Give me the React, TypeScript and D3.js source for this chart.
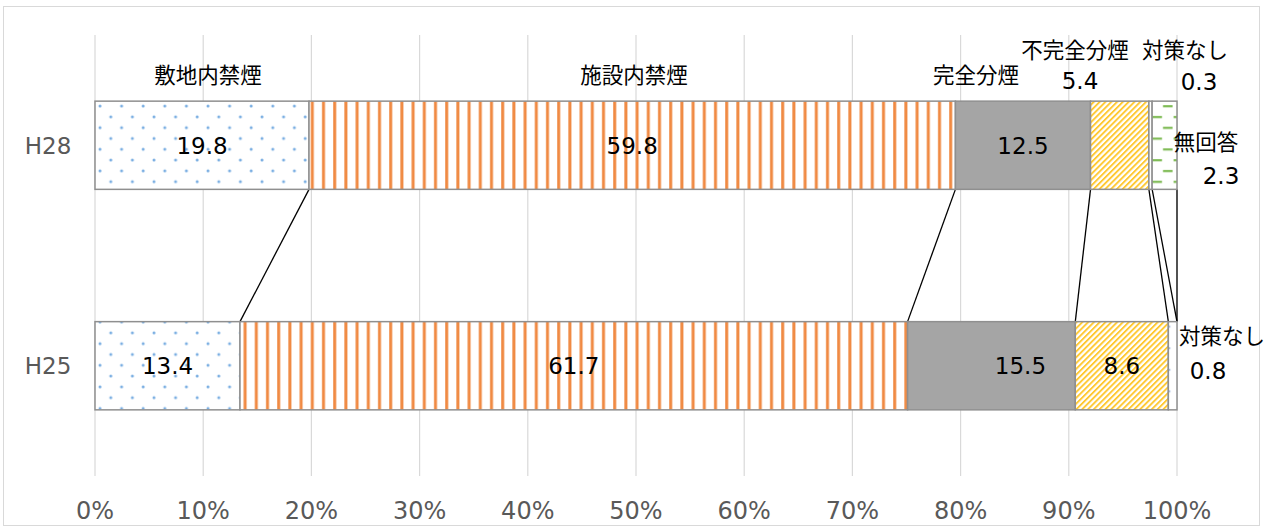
import React from "react";
import * as d3 from "d3";

const categories = ["H28", "H25"];
const seriesNames = ["敷地内禁煙", "施設内禁煙", "完全分煙", "不完全分煙", "対策なし", "無回答"];
const h28Values = [19.8, 59.8, 12.5, 5.4, 0.3, 2.3];
const h25Values = [13.4, 61.7, 15.5, 8.6, 0.8, 0];
const xTicks = [0, 10, 20, 30, 40, 50, 60, 70, 80, 90, 100];
// which values are printed inside the bar
const h28Inside = [true, true, true, false, false, false];
const h25Inside = [true, true, true, true, false, false];

const W = 1266;
const H = 528;
const FONT = "'DejaVu Sans', 'Noto Sans CJK JP', sans-serif";
const JFONT = "'Noto Sans CJK JP', sans-serif";

const fills = [
  "url(#pDots)",
  "url(#pVert)",
  "#a5a5a5",
  "url(#pDiag)",
  "url(#pSmallDots)",
  "url(#pDash)",
];

export default function App() {
  const x = d3.scaleLinear().domain([0, 100]).range([95, 1177]);
  const y = d3.scaleBand<string>().domain(categories).range([35, 476]).paddingInner(0.6).paddingOuter(0.3);
  const valuesByCat: Record<string, number[]> = { H28: h28Values, H25: h25Values };
  const insideByCat: Record<string, boolean[]> = { H28: h28Inside, H25: h25Inside };

  const stacked = categories.map((c) => {
    const vals = valuesByCat[c];
    const total = d3.sum(vals);
    let acc = 0;
    return vals.map((v, i) => {
      const start = (acc / total) * 100;
      acc += v;
      const end = (acc / total) * 100;
      return { cat: c, i, v, start, end };
    });
  });

  const bw = y.bandwidth();
  const yTop28 = y("H28")!;
  const yTop25 = y("H25")!;

  const labelOffsets: Record<string, number[]> = { H28: [0, 0, 0, 0, 0, 0], H25: [0, 0, 29, 0, 0, 0] };

  return (
    <svg width={W} height={H} style={{ position: "absolute", left: 0, top: 0, background: "#fff" }}>
      <defs>
        <pattern id="pDots" patternUnits="userSpaceOnUse" width={21.6} height={21.6} x={95} y={yTop28}>
          <rect width={21.6} height={21.6} fill="#fff" />
          <circle cx={5} cy={5} r={1.5} fill="#7aaee2" />
          <circle cx={15.8} cy={15.8} r={1.5} fill="#7aaee2" />
        </pattern>
        <pattern id="pSmallDots" patternUnits="userSpaceOnUse" width={10.8} height={21.6} x={0} y={yTop25}>
          <rect width={10.8} height={21.6} fill="#fff" />
          <circle cx={3} cy={5} r={1.1} fill="#9bb3dc" />
        </pattern>
        <pattern id="pVert" patternUnits="userSpaceOnUse" width={11.2} height={10} x={95}>
          <rect width={11.2} height={10} fill="#fff" />
          <rect x={3} width={3} height={10} fill="#f08a43" />
        </pattern>
        <pattern id="pDiag" patternUnits="userSpaceOnUse" width={4.1} height={4.1} patternTransform="rotate(45)">
          <rect width={4.1} height={4.1} fill="#fff" />
          <rect width={1.9} height={4.1} fill="#ffc830" />
        </pattern>
        <pattern id="pDash" patternUnits="userSpaceOnUse" width={21.6} height={21.6} x={1151} y={yTop28}>
          <rect width={21.6} height={21.6} fill="#fff" />
          <rect x={12} y={4} width={10} height={2.2} fill="#7fbb55" />
          <rect x={1} y={14.8} width={10} height={2.2} fill="#7fbb55" />
        </pattern>
      </defs>

      {/* outer border */}
      <rect x={3.5} y={6.5} width={1256} height={519} fill="none" stroke="#d9d9d9" strokeWidth={1} />

      {/* gridlines */}
      {xTicks.map((t) => (
        <line key={t} x1={x(t)} x2={x(t)} y1={35} y2={476} stroke="#d9d9d9" strokeWidth={1.2} />
      ))}

      {/* x tick labels */}
      {xTicks.map((t) => (
        <text key={t} x={x(t)} y={519} textAnchor="middle" fontFamily={FONT} fontSize={24} fill="#595959">
          {t}%
        </text>
      ))}

      {/* category labels */}
      {categories.map((c) => (
        <text key={c} x={48} y={y(c)! + bw / 2 + 8.5} textAnchor="middle" fontFamily={FONT} fontSize={23} fill="#595959">
          {c}
        </text>
      ))}

      {/* connecting lines */}
      {stacked[0].map((s, i) => (
        <line
          key={i}
          x1={x(s.end)}
          y1={yTop28 + bw}
          x2={x(stacked[1][i].end)}
          y2={yTop25}
          stroke="#000"
          strokeWidth={1.3}
        />
      ))}

      {/* bars */}
      {stacked.map((segs) =>
        segs
          .filter((s) => s.v > 0)
          .map((s) => (
            <rect
              key={s.cat + s.i}
              x={x(s.start)}
              y={y(s.cat)!}
              width={x(s.end) - x(s.start)}
              height={bw}
              fill={fills[s.i]}
              stroke="#8f8f8f"
              strokeWidth={1.5}
            />
          ))
      )}

      {/* inside value labels */}
      {stacked.map((segs) =>
        segs
          .filter((s) => insideByCat[s.cat][s.i])
          .map((s) => (
            <text
              key={"l" + s.cat + s.i}
              x={(x(s.start) + x(s.end)) / 2 + labelOffsets[s.cat][s.i]}
              y={y(s.cat)! + bw / 2 + 8.5}
              textAnchor="middle"
              fontFamily={FONT}
              fontSize={23}
              fill="#000"
            >
              {s.v.toFixed(1)}
            </text>
          ))
      )}

      {/* series name labels */}
      <text x={208} y={83} textAnchor="middle" fontFamily={JFONT} fontSize={21.5} fill="#000">{seriesNames[0]}</text>
      <text x={634} y={83} textAnchor="middle" fontFamily={JFONT} fontSize={21.5} fill="#000">{seriesNames[1]}</text>
      <text x={976} y={83} textAnchor="middle" fontFamily={JFONT} fontSize={21.5} fill="#000">{seriesNames[2]}</text>
      <text x={1075} y={58} textAnchor="middle" fontFamily={JFONT} fontSize={21.5} fill="#000">{seriesNames[3]}</text>
      <text x={1080} y={89} textAnchor="middle" fontFamily={FONT} fontSize={23} fill="#000">{h28Values[3].toFixed(1)}</text>
      <text x={1185} y={58} textAnchor="middle" fontFamily={JFONT} fontSize={21.5} fill="#000">{seriesNames[4]}</text>
      <text x={1199} y={90} textAnchor="middle" fontFamily={FONT} fontSize={23} fill="#000">{h28Values[4].toFixed(1)}</text>
      <text x={1206} y={150} textAnchor="middle" fontFamily={JFONT} fontSize={21.5} fill="#000">{seriesNames[5]}</text>
      <text x={1221} y={184} textAnchor="middle" fontFamily={FONT} fontSize={23} fill="#000">{h28Values[5].toFixed(1)}</text>
      <text x={1222} y={344} textAnchor="middle" fontFamily={JFONT} fontSize={21.5} fill="#000">{seriesNames[4]}</text>
      <text x={1208} y={379} textAnchor="middle" fontFamily={FONT} fontSize={23} fill="#000">{h25Values[4].toFixed(1)}</text>
    </svg>
  );
}
